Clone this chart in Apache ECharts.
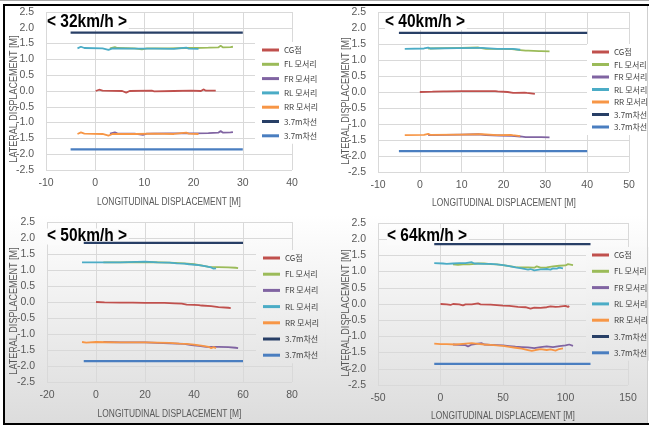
<!DOCTYPE html>
<html>
<head>
<meta charset="utf-8">
<script src="https://cdn.jsdelivr.net/npm/echarts@6/dist/echarts.min.js"></script>
<style>
  html, body { margin: 0; padding: 0; background: #fff; }
  #wrap { position: relative; width: 649px; height: 429px; overflow: hidden; }
  #bg { position: absolute; left: 4px; top: 215px; width: 643px; height: 209px;
        background: linear-gradient(#ffffff, #dcdcdc); }
  #chart { position: absolute; left: 0; top: 0; width: 649px; height: 429px; }
  .ln { position: absolute; }
</style>
</head>
<body>
<div id="wrap">
  <div id="bg"></div>
  <div id="chart"></div>
  <div class="ln" style="left:0;top:0;width:649px;height:1px;background:#a8a8a8"></div>
  <div class="ln" style="left:3px;top:4px;width:646px;height:2px;background:#000"></div>
  <div class="ln" style="left:3px;top:4px;width:1.5px;height:421px;background:#000"></div>
  <div class="ln" style="left:3px;top:423px;width:646px;height:2px;background:#000"></div>
  <div class="ln" style="left:647px;top:6px;width:1px;height:417px;background:#cfcfcf"></div>
</div>
<script>
const speeds = ['< 32km/h >', '< 40km/h >', '< 50km/h >', '< 64km/h >']
const seriesNames = ['CG점', 'FL 모서리', 'FR 모서리', 'RL 모서리', 'RR 모서리', 'laneA', 'laneB']
const legendLabels = { laneA: '3.7m차선', laneB: '3.7m차선' }
const colors = ['#C0504D', '#9BBB59', '#8064A2', '#4BACC6', '#F79646', '#283F66', '#4A7EC0']

// x 축 범위 (km/h 별)
const xMin = [-10, -10, -20, -50]
const xMax = [40, 50, 80, 150]
const xStep = [10, 10, 20, 50]
const laneX = [[-5, 30], [-5, 40], [-5, 60], [-5, 120]]
const laneY = [1.85, -1.85]

// 32km/h
const cg32 = [[0.1, 0.0], [0.8, 0.04], [1.5, 0.01], [5.5, 0.0], [6.3, -0.05], [7, 0.0], [11.5, 0.01], [12, -0.01], [16, 0.0], [19.5, 0.01], [21.5, 0.0], [22, 0.05], [22.5, 0.01], [23.8, 0.01], [24.5, 0.01]]
const fl32 = [[3, 1.35], [4, 1.39], [4.5, 1.36], [8, 1.35], [9.5, 1.32], [10.5, 1.35], [15, 1.35], [18.5, 1.36], [20, 1.36], [23, 1.37], [25, 1.38], [25.5, 1.43], [26, 1.38], [27.5, 1.39], [28, 1.40]]
const fr32 = [[3, -1.35], [4, -1.31], [4.5, -1.34], [8, -1.35], [9.7, -1.39], [10.5, -1.35], [15, -1.34], [20, -1.34], [23, -1.33], [25, -1.32], [25.5, -1.27], [26, -1.32], [27.5, -1.31], [28, -1.30]]
const rl32 = [[-3.6, 1.35], [-2.9, 1.40], [-2.2, 1.36], [1.5, 1.35], [2.7, 1.30], [3.5, 1.35], [8, 1.34], [12, 1.34], [16, 1.33], [18.5, 1.37], [19, 1.34], [21, 1.33]]
const rr32 = [[-3.6, -1.36], [-2.9, -1.31], [-2.2, -1.35], [1.5, -1.36], [2.7, -1.41], [3.5, -1.36], [8, -1.36], [12, -1.35], [16, -1.36], [18.5, -1.32], [19, -1.35], [21, -1.36]]

// 40km/h
const cg40 = [[0, 0.0], [3, 0.01], [5.7, 0.02], [6, 0.05], [6.4, 0.02], [10, 0.03], [12.5, 0.03], [12.7, 0.01], [15, 0.03], [18, 0.03], [18.2, 0.05], [18.6, 0.02], [21, 0.0], [22.3, -0.03], [22.5, -0.09], [22.8, -0.03], [25, -0.02], [25.3, 0.02], [25.6, -0.03], [27.5, -0.06]]
const fl40 = [[2, 1.36], [6, 1.37], [10, 1.38], [14, 1.39], [15.8, 1.35], [19, 1.35], [22, 1.34], [24, 1.31], [25.3, 1.29], [25.5, 1.23], [25.9, 1.29], [28.5, 1.28], [28.7, 1.32], [29, 1.28], [31, 1.27]]
const fr40 = [[2, -1.35], [6, -1.34], [10, -1.33], [14, -1.32], [15.8, -1.35], [19, -1.36], [22, -1.37], [24, -1.39], [25.3, -1.41], [25.5, -1.47], [25.9, -1.41], [28.5, -1.41], [28.7, -1.37], [29, -1.41], [31, -1.42]]
const rl40 = [[-3.6, 1.35], [1, 1.36], [2, 1.39], [2.5, 1.36], [9, 1.37], [9.2, 1.40], [9.5, 1.37], [14.3, 1.38], [14.5, 1.42], [14.8, 1.38], [18.5, 1.35], [18.7, 1.30], [19, 1.35], [21.7, 1.35], [21.9, 1.40], [22.2, 1.35], [24, 1.32]]
const rr40 = [[-3.6, -1.35], [1, -1.34], [2, -1.31], [2.5, -1.34], [9, -1.33], [9.2, -1.30], [9.5, -1.33], [14.3, -1.32], [14.5, -1.28], [14.8, -1.32], [18.5, -1.35], [18.7, -1.41], [19, -1.35], [21.7, -1.34], [21.9, -1.30], [22.2, -1.35], [24, -1.38]]

// 50km/h
const cg50 = [[0, 0.0], [3.5, -0.01], [10, -0.02], [15, -0.02], [20, -0.03], [28, -0.03], [32, -0.04], [35, -0.05], [37, -0.08], [40, -0.09], [42, -0.10], [42.5, -0.15], [43, -0.11], [47, -0.13], [50, -0.16], [54, -0.18], [54.5, -0.22], [55, -0.19]]
const fl50 = [[3, 1.24], [10, 1.24], [20, 1.25], [30, 1.23], [36, 1.21], [40, 1.18], [44, 1.13], [46, 1.10], [46.3, 1.05], [46.6, 1.10], [50, 1.09], [54, 1.08], [57, 1.07], [57.3, 1.02], [57.6, 1.07], [58, 1.06]]
const fr50 = [[3, -1.25], [10, -1.26], [20, -1.26], [30, -1.29], [36, -1.31], [39, -1.35], [42, -1.37], [45, -1.40], [45.3, -1.44], [45.6, -1.40], [50, -1.40], [54, -1.41], [57, -1.43], [57.3, -1.48], [57.6, -1.44], [58, -1.44]]
const rl50 = [[-5.7, 1.24], [0, 1.24], [10, 1.24], [20, 1.26], [25, 1.24], [30, 1.23], [33, 1.21], [36, 1.20], [38, 1.18], [38.3, 1.13], [38.6, 1.18], [42, 1.15], [45, 1.11], [47, 1.08], [48, 1.04], [48.5, 1.08], [49, 1.05]]
const rr50 = [[-5.7, -1.25], [-4, -1.27], [0, -1.25], [10, -1.26], [20, -1.26], [25, -1.27], [30, -1.28], [34, -1.30], [37, -1.31], [40, -1.33], [43, -1.36], [46, -1.40], [47, -1.44], [48, -1.41], [48.5, -1.47], [49, -1.44]]

// 64km/h
const cg64 = [[0, 0.0], [5, -0.01], [8, -0.03], [10, 0.0], [15, -0.01], [18, -0.04], [20, -0.01], [25, -0.01], [30, 0.02], [32, -0.01], [40, -0.02], [50, -0.05], [55, -0.06], [62, -0.09], [68, -0.10], [72, -0.14], [75, -0.11], [80, -0.12], [85, -0.10], [88, -0.07], [92, -0.09], [95, -0.08], [100, -0.06], [102, -0.09], [103, -0.06]]
const fl64 = [[10, 1.22], [14, 1.21], [15, 1.18], [18, 1.22], [23, 1.22], [23.5, 1.16], [24, 1.21], [30, 1.25], [35, 1.25], [40, 1.23], [45, 1.22], [50, 1.20], [55, 1.17], [60, 1.14], [65, 1.13], [70, 1.13], [75, 1.12], [77, 1.16], [80, 1.12], [85, 1.13], [90, 1.16], [95, 1.18], [100, 1.19], [102, 1.23], [106, 1.20]]
const fr64 = [[10, -1.25], [15, -1.26], [20, -1.27], [22, -1.31], [25, -1.25], [33, -1.21], [35, -1.25], [40, -1.26], [45, -1.27], [50, -1.28], [55, -1.30], [60, -1.32], [65, -1.33], [70, -1.34], [75, -1.36], [80, -1.33], [85, -1.31], [90, -1.33], [95, -1.30], [100, -1.28], [103, -1.25], [106, -1.29]]
const rl64 = [[-5, 1.26], [2, 1.25], [5, 1.24], [10, 1.25], [15, 1.26], [20, 1.26], [25, 1.29], [27, 1.25], [35, 1.24], [40, 1.24], [45, 1.22], [50, 1.20], [55, 1.17], [60, 1.13], [65, 1.10], [70, 1.06], [72, 1.08], [75, 1.04], [80, 1.07], [85, 1.08], [88, 1.06], [90, 1.10], [93, 1.09], [95, 1.12], [98, 1.10]]
const rr64 = [[-5, -1.22], [0, -1.24], [5, -1.24], [12, -1.25], [18, -1.23], [25, -1.21], [30, -1.23], [35, -1.25], [40, -1.26], [45, -1.28], [50, -1.29], [55, -1.32], [60, -1.35], [65, -1.38], [70, -1.42], [73, -1.45], [76, -1.42], [80, -1.39], [85, -1.42], [88, -1.40], [92, -1.44], [95, -1.39], [98, -1.37]]

const plotData = [
  [cg32, fl32, fr32, rl32, rr32],
  [cg40, fl40, fr40, rl40, rr40],
  [cg50, fl50, fr50, rl50, rr50],
  [cg64, fl64, fr64, rl64, rr64],
]

// 레이아웃 (px)
const grids = [
  { left: 46, top: 12, width: 246, height: 158 },
  { left: 378, top: 12, width: 251, height: 160 },
  { left: 47, top: 222, width: 245, height: 160 },
  { left: 378, top: 223, width: 250, height: 162 },
]
const legendPos = [
  { left: 255, top: 42, itemGap: 4.3, pad: [3, 6, 3, 7] },
  { left: 587, top: 44, itemGap: 2.5, pad: [3, 2, 3, 5] },
  { left: 256, top: 250, itemGap: 6.2, pad: [3, 6, 3, 7] },
  { left: 586, top: 247, itemGap: 6.3, pad: [3, 2, 3, 6] },
]
const titlePos = [[47, 22], [385, 22], [47, 236.5], [387, 236.5]]
const titleBg = ['#ffffff', '#ffffff', '#fbfbfb', '#fbfbfb']
const xTitlePos = [[169, 202], [504, 203], [169.5, 414], [503, 416.5]]
const yTitlePos = [[14, 99], [346, 101], [14, 311], [346, 313]]

const labelFont = "'Liberation Sans', sans-serif"
const textColor = '#595959'

const chart = echarts.init(document.getElementById('chart'))

const xAxis = []
const yAxis = []
const series = []
const legend = []
const graphic = []

for (let i = 0; i < 4; i++) {
  xAxis.push({
    type: 'value',
    gridIndex: i,
    min: xMin[i],
    max: xMax[i],
    interval: xStep[i],
    axisLine: { show: false },
    axisTick: { show: false },
    axisLabel: { fontSize: 10.5, color: textColor, fontFamily: labelFont, margin: 8 },
    splitLine: { lineStyle: { color: '#d9d9d9', width: 1 } },
  })
  yAxis.push({
    type: 'value',
    gridIndex: i,
    min: -2.5,
    max: 2.5,
    interval: 0.5,
    axisLine: { show: false },
    axisTick: { show: false },
    axisLabel: {
      fontSize: 10.5,
      color: textColor,
      fontFamily: labelFont,
      margin: 12,
      formatter: (v) => v.toFixed(1),
    },
    splitLine: { lineStyle: { color: '#d9d9d9', width: 1 } },
  })

  plotData[i].forEach((data, k) => {
    series.push({
      name: seriesNames[k],
      type: 'line',
      xAxisIndex: i,
      yAxisIndex: i,
      symbol: 'none',
      lineStyle: { width: 1.8, color: colors[k] },
      itemStyle: { color: colors[k] },
      data: data,
    })
  })
  laneY.forEach((y, k) => {
    series.push({
      name: seriesNames[5 + k],
      type: 'line',
      xAxisIndex: i,
      yAxisIndex: i,
      symbol: 'none',
      z: 3,
      lineStyle: { width: 2.2, color: colors[5 + k] },
      itemStyle: { color: colors[5 + k] },
      data: [[laneX[i][0], y], [laneX[i][1], y]],
    })
  })

  // 하단 차트는 배경이 그라데이션이라 범례 배경도 맞춰줌
  const lp = legendPos[i]
  const legendBg = i < 2 ? '#ffffff' : new echarts.graphic.LinearGradient(0, 0, 0, 1, [
    { offset: 0, color: '#f9f9f9' },
    { offset: 1, color: '#e6e6e6' },
  ])
  legend.push({
    orient: 'vertical',
    left: lp.left,
    top: lp.top,
    padding: lp.pad,
    itemGap: lp.itemGap,
    itemWidth: 17,
    itemHeight: 3,
    icon: 'rect',
    backgroundColor: legendBg,
    selectedMode: false,
    data: seriesNames,
    formatter: (name) => legendLabels[name] || name,
    textStyle: { fontSize: 8, lineHeight: 10, color: '#404040', fontFamily: "'Noto Sans CJK KR', sans-serif" },
  })

  // 제목 (굵게, 약간 좁게, 격자선 가림)
  graphic.push({
    type: 'text',
    x: titlePos[i][0],
    y: titlePos[i][1],
    z: 2,
    scaleX: 0.86,
    style: {
      text: speeds[i],
      fill: '#000',
      font: 'bold 18px ' + labelFont,
      lineHeight: 16,
      backgroundColor: titleBg[i],
      padding: [0, 2, 0, 0],
      textAlign: 'left',
      textVerticalAlign: 'middle',
    },
  })
  // 축 제목
  graphic.push({
    type: 'text',
    x: xTitlePos[i][0],
    y: xTitlePos[i][1],
    scaleX: 0.8,
    style: {
      text: 'LONGITUDINAL DISPLACEMENT [M]',
      fill: textColor,
      font: '10.5px ' + labelFont,
      textAlign: 'center',
      textVerticalAlign: 'middle',
    },
  })
  graphic.push({
    type: 'text',
    x: yTitlePos[i][0],
    y: yTitlePos[i][1],
    rotation: Math.PI / 2,
    scaleX: 0.86,
    style: {
      text: 'LATERAL DISPLACEMENT [M]',
      fill: textColor,
      font: '10.5px ' + labelFont,
      textAlign: 'center',
      textVerticalAlign: 'middle',
    },
  })
}

chart.setOption({
  animation: false,
  backgroundColor: 'transparent',
  legend,
  grid: grids,
  xAxis,
  yAxis,
  series,
  graphic,
})
</script>
</body>
</html>
